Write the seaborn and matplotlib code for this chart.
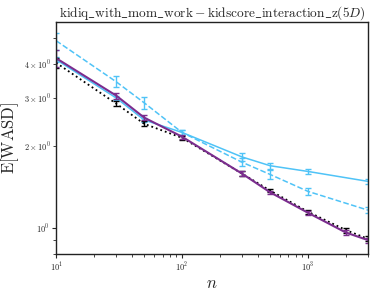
import pandas as pd
import matplotlib
matplotlib.use("Agg")
import matplotlib.pyplot as plt
import seaborn as sns
import numpy as np

# sample sizes
n_main = [10, 30, 50, 100, 300, 500, 1000, 3000]
n_purple = [10, 30, 50, 100, 300, 500, 1000, 2000, 3000]

# expected WASD per method
cyan_dash = [4.87, 3.44, 2.88, 2.24, 1.74, 1.57, 1.36, 1.16]
cyan_dash_err = [0.35, 0.16, 0.14, 0.05, 0.06, 0.06, 0.04, 0.03]
cyan_solid = [4.15, 3.00, 2.49, 2.24, 1.82, 1.69, 1.61, 1.48]
cyan_solid_err = [0.10, 0.05, 0.05, 0.05, 0.06, 0.04, 0.03, 0.03]
purple = [4.20, 3.06, 2.54, 2.16, 1.58, 1.35, 1.135, 0.96, 0.90]
purple_err = [0.30, 0.08, 0.06, 0.04, 0.03, 0.02, 0.02, 0.02, 0.02]
black = [4.04, 2.86, 2.41, 2.14, 1.58, 1.37, 1.145, 0.98, 0.91]
black_err = [0.18, 0.07, 0.05, 0.04, 0.03, 0.02, 0.02, 0.02, 0.02]
n_black = [10, 30, 50, 100, 300, 500, 1000, 2000, 3000]

sns.set_style("ticks")
plt.rcParams['font.family'] = 'serif'
plt.rcParams['font.serif'] = ['cmr10', 'DejaVu Serif']
plt.rcParams['mathtext.fontset'] = 'cm'
plt.rcParams['axes.formatter.use_mathtext'] = True
plt.rcParams['axes.unicode_minus'] = False

cyan = '#4fc3f7'
violet = '#7b2d8e'

fig, ax = plt.subplots(figsize=(3.74, 2.91), dpi=100)
fig.subplots_adjust(left=0.15, right=0.984, bottom=0.127, top=0.924)

series = [
    (n_main, cyan_dash, cyan_dash_err, cyan, '--', 1.1),
    (n_main, cyan_solid, cyan_solid_err, cyan, '-', 1.1),
    (n_black, black, black_err, 'black', ':', 1.3),
    (n_purple, purple, purple_err, violet, '-', 1.5),
]

for xs, ys, es, col, ls, lw in series:
    df = pd.DataFrame({'n': xs, 'wasd': ys})
    sns.lineplot(ax=ax, data=df, x='n', y='wasd', color=col, linestyle=ls, linewidth=lw)
    ax.errorbar(xs, ys, yerr=es, fmt='none', ecolor=col, elinewidth=1.0, capsize=2.5, capthick=1.0)

ax.set_xscale('log')
ax.set_yscale('log')
ax.set_xlim(10, 3000)
ax.set_ylim(0.8, 5.7)

for s in ax.spines.values():
    s.set_linewidth(1.0)
    s.set_color('#222222')
ax.tick_params(which='both', labelsize=6, direction='out', pad=2)
ax.tick_params(which='major', length=3)
ax.tick_params(which='minor', length=2)

ax.set_title(r'$\mathrm{kidiq\_with\_mom\_work} - \mathrm{kidscore\_interaction\_z}(5D)$', fontsize=9.6, pad=2)
ax.set_xlabel(r'$n$', fontsize=12)
ax.set_ylabel(r'$\mathrm{E}[\mathrm{WASD}]$', fontsize=12)
ax.xaxis.set_label_coords(0.5, -0.095)
ax.yaxis.set_label_coords(-0.112, 0.5)

plt.savefig('out.png', dpi=100)
